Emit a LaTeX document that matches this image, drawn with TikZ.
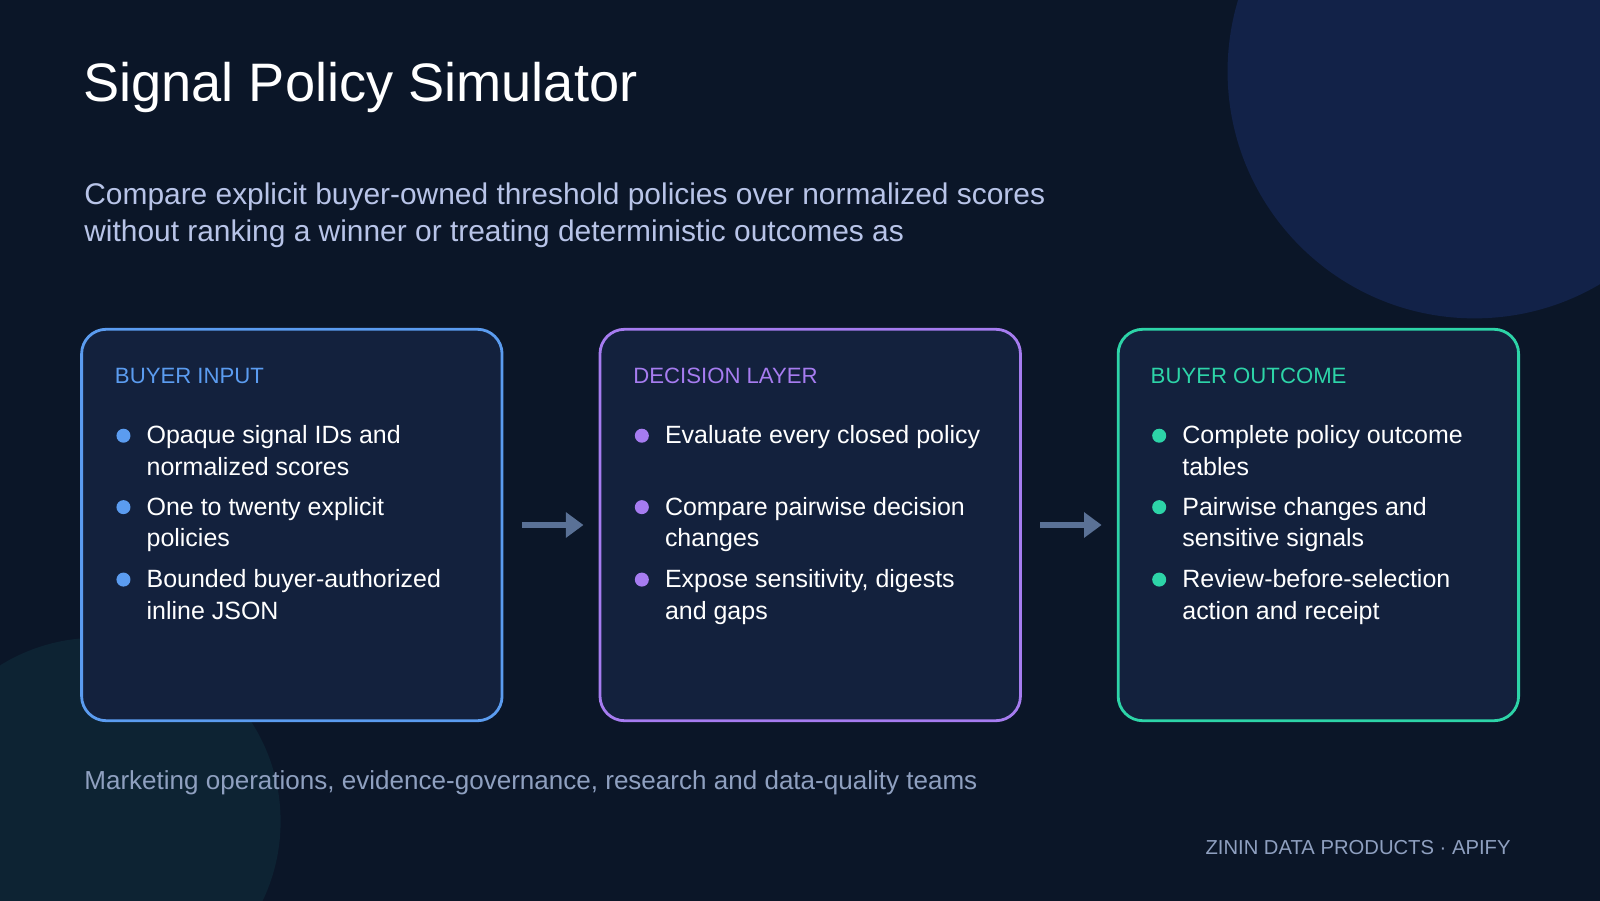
\documentclass[tikz,border=0pt]{standalone}
\usepackage{fontspec}
\setmainfont{Liberation Sans}
\usetikzlibrary{positioning,arrows.meta}
\definecolor{bgnavy}{HTML}{0B1628}
\definecolor{cardfill}{HTML}{13213D}
\definecolor{inblue}{HTML}{5B9CF0}
\definecolor{decpurple}{HTML}{A67CF0}
\definecolor{outteal}{HTML}{2DD4A8}
\definecolor{subtext}{HTML}{B8C4E8}
\definecolor{foottext}{HTML}{8FA0C0}
\definecolor{arrowgray}{HTML}{5A7196}
\definecolor{glowblue}{HTML}{122248}
\definecolor{glowteal}{HTML}{0D2333}
\tikzset{
  card/.style={draw=#1, line width=0.8pt, fill=cardfill, rounded corners=7pt,
    minimum width=4.2cm, minimum height=3.91cm, inner sep=0pt},
  head/.style={anchor=base west, text=#1, font=\fontsize{6.3}{7.5}\selectfont, inner sep=0pt},
  dot/.style={circle, fill=#1, minimum size=0.14cm, inner sep=0pt},
  item/.style={anchor=base west, align=left, text=white, inner sep=0pt,
    font=\fontsize{7.1}{9}\selectfont},
  flow/.style={-{Triangle[length=5pt,width=7pt]}, draw=arrowgray, line width=1.6pt,
    shorten <=5.2pt, shorten >=4.3pt}
}
\begin{document}
\begin{tikzpicture}[x=0.0102cm, y=-0.0102cm]
\useasboundingbox (0,0) rectangle (1568,882);
\fill[bgnavy] (-10,-10) rectangle (1578,892);
\begin{scope}
\clip (-10,-10) rectangle (1578,892);
\fill[glowblue] (1445,70) circle (242);
\fill[glowteal] (95,805) circle (180);
\end{scope}

% title and subtitle
\node[anchor=base west, text=white, font=\fontsize{15.4}{18}\selectfont, inner sep=0pt] (title) at (81,99) {Signal Policy Simulator};
\node[anchor=base west, align=left, text=subtext, font=\fontsize{8.5}{10.7}\selectfont, inner sep=0pt] (sub) at (82,237)
  {Compare explicit buyer-owned threshold policies over normalized scores\\without ranking a winner or treating deterministic outcomes as};

% cards
\node[card=inblue] (input) at (286,514.5) {};
\node[card=decpurple] (decide) at (794,514.5) {};
\node[card=outteal, minimum width=4cm] (outcome) at (1292,514.5) {};

\node[head=inblue] (inhead) at (112,376) {BUYER INPUT};
\node[head=decpurple] (dechead) at (620,376) {DECISION LAYER};
\node[head=outteal] (outhead) at (1127,376) {BUYER OUTCOME};

% buyer input items
\node[dot=inblue] (ind1) at (121,427) {};
\node[item] (in1) at (143,466) {Opaque signal IDs and\\normalized scores};
\node[dot=inblue] (ind2) at (121,497) {};
\node[item] (in2) at (143,536) {One to twenty explicit\\policies};
\node[dot=inblue] (ind3) at (121,568) {};
\node[item] (in3) at (143,607) {Bounded buyer-authorized\\inline JSON};

% decision items
\node[dot=decpurple] (decd1) at (629,427) {};
\node[item] (dec1) at (651,435) {Evaluate every closed policy};
\node[dot=decpurple] (decd2) at (629,497) {};
\node[item] (dec2) at (651,536) {Compare pairwise decision\\changes};
\node[dot=decpurple] (decd3) at (629,568) {};
\node[item] (dec3) at (651,607) {Expose sensitivity, digests\\and gaps};

% outcome items
\node[dot=outteal] (outd1) at (1136,427) {};
\node[item] (out1) at (1158,466) {Complete policy outcome\\tables};
\node[dot=outteal] (outd2) at (1136,497) {};
\node[item] (out2) at (1158,536) {Pairwise changes and\\sensitive signals};
\node[dot=outteal] (outd3) at (1136,568) {};
\node[item] (out3) at (1158,607) {Review-before-selection\\action and receipt};

\draw[flow] (input.east) -- (decide.west);
\draw[flow] (decide.east) -- (outcome.west);

% footer
\node[anchor=base west, text=foottext, font=\fontsize{7.4}{9}\selectfont, inner sep=0pt] (teams) at (82,774) {Marketing operations, evidence-governance, research and data-quality teams};
\node[anchor=base east, text=foottext, font=\fontsize{5.75}{7}\selectfont, inner sep=0pt] (brand) at (1481,837) {ZININ DATA PRODUCTS · APIFY};
\end{tikzpicture}
\end{document}
